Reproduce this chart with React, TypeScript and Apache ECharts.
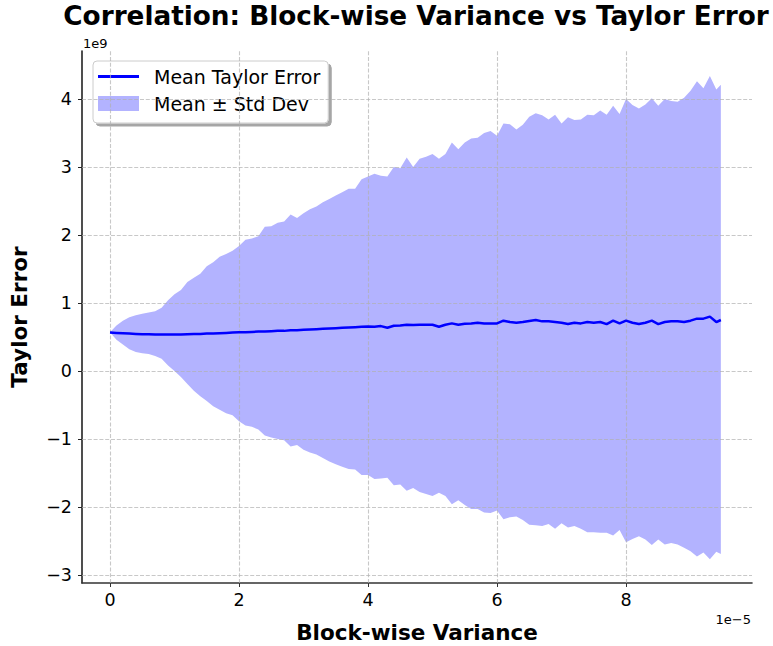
import React, { useEffect, useRef } from "react";
import * as echarts from "echarts";

// Block-wise variance (units of 1e-5)
const variance = [
  0.0, 0.1, 0.2, 0.3, 0.4, 0.5, 0.6, 0.7, 0.8, 0.9,
  1.0, 1.1, 1.2, 1.3, 1.4, 1.5, 1.6, 1.7, 1.8, 1.9,
  2.0, 2.1, 2.2, 2.3, 2.4, 2.5, 2.6, 2.7, 2.8, 2.9,
  3.0, 3.1, 3.2, 3.3, 3.4, 3.5, 3.6, 3.7, 3.8, 3.9,
  4.0, 4.1, 4.2, 4.3, 4.4, 4.5, 4.6, 4.7, 4.8, 4.9,
  5.0, 5.1, 5.2, 5.3, 5.4, 5.5, 5.6, 5.7, 5.8, 5.9,
  6.0, 6.1, 6.2, 6.3, 6.4, 6.5, 6.6, 6.7, 6.8, 6.9,
  7.0, 7.1, 7.2, 7.3, 7.4, 7.5, 7.6, 7.7, 7.8, 7.9,
  8.0, 8.1, 8.2, 8.3, 8.4, 8.5, 8.6, 8.7, 8.8, 8.9,
  9.0, 9.1, 9.2, 9.3, 9.4, 9.47,
];

// Mean Taylor error (units of 1e9)
const meanError = [
  0.565, 0.56, 0.555, 0.55, 0.545, 0.54, 0.54, 0.535, 0.535, 0.535,
  0.535, 0.535, 0.54, 0.545, 0.545, 0.55, 0.55, 0.555, 0.56, 0.565,
  0.57, 0.57, 0.575, 0.58, 0.58, 0.585, 0.59, 0.59, 0.6, 0.6,
  0.605, 0.61, 0.615, 0.62, 0.625, 0.63, 0.635, 0.64, 0.645, 0.65,
  0.655, 0.65, 0.66, 0.635, 0.665, 0.67, 0.68, 0.675, 0.68, 0.68,
  0.68, 0.65, 0.68, 0.7, 0.68, 0.695, 0.7, 0.71, 0.7, 0.7,
  0.7, 0.74, 0.72, 0.71, 0.72, 0.735, 0.75, 0.73, 0.73, 0.72,
  0.71, 0.69, 0.71, 0.7, 0.72, 0.71, 0.72, 0.69, 0.74, 0.7,
  0.74, 0.71, 0.69, 0.71, 0.74, 0.69, 0.72, 0.73, 0.73, 0.72,
  0.74, 0.77, 0.77, 0.8, 0.72, 0.75,
];

// Mean + std (units of 1e9)
const bandUpper = [
  0.57, 0.67, 0.74, 0.79, 0.82, 0.84, 0.86, 0.88, 0.93, 1.04,
  1.13, 1.19, 1.31, 1.37, 1.43, 1.54, 1.6, 1.68, 1.72, 1.77,
  1.84, 1.93, 1.95, 1.98, 2.12, 2.13, 2.18, 2.2, 2.3, 2.25,
  2.32, 2.38, 2.42, 2.48, 2.53, 2.58, 2.63, 2.68, 2.68, 2.82,
  2.86, 2.9, 2.87, 2.86, 3.0, 2.98, 3.14, 3.0, 3.12, 3.15,
  3.19, 3.12, 3.19, 3.36, 3.26, 3.36, 3.42, 3.43, 3.5, 3.53,
  3.46, 3.64, 3.63, 3.55, 3.62, 3.74, 3.79, 3.76, 3.7, 3.77,
  3.64, 3.73, 3.69, 3.7, 3.77, 3.76, 3.83, 3.77, 3.9, 3.78,
  4.0, 3.91, 3.86, 3.92, 4.01, 3.9, 4.0, 3.97, 3.96, 4.02,
  4.12, 4.26, 4.16, 4.34, 4.14, 4.21,
];

// Mean - std (units of 1e9)
const bandLower = [
  0.57, 0.46, 0.39, 0.32, 0.28, 0.26, 0.25, 0.22, 0.18, 0.08,
  0.0, -0.09, -0.19, -0.29, -0.37, -0.44, -0.52, -0.57, -0.62, -0.65,
  -0.74, -0.8, -0.82, -0.86, -0.95, -0.98, -1.0, -1.02, -1.11, -1.09,
  -1.16, -1.2, -1.23, -1.28, -1.33, -1.37, -1.41, -1.44, -1.45, -1.53,
  -1.53, -1.59, -1.58, -1.57, -1.68, -1.67, -1.76, -1.72, -1.78, -1.81,
  -1.84, -1.79, -1.84, -1.96, -1.9, -1.97, -2.03, -2.03, -2.08, -2.09,
  -2.05, -2.18, -2.15, -2.14, -2.19, -2.26, -2.27, -2.28, -2.25, -2.32,
  -2.24, -2.3, -2.28, -2.32, -2.37, -2.37, -2.38, -2.38, -2.42, -2.34,
  -2.52, -2.47, -2.43, -2.48, -2.56, -2.48, -2.55, -2.53, -2.55, -2.6,
  -2.65, -2.73, -2.67, -2.77, -2.66, -2.69,
];

const xTicks = [0, 2, 4, 6, 8];
const yTicks = [-3, -2, -1, 0, 1, 2, 3, 4];

const FONT = "DejaVu Sans";

export default function App() {
  const ref = useRef<HTMLDivElement>(null);

  useEffect(() => {
    if (!ref.current) return;
    const chart = echarts.init(ref.current, null, { renderer: "svg" });

    const gridLine = {
      color: "#b0b0b0",
      opacity: 0.7,
      width: 1.1,
      type: [4, 1.8],
    };

    const fmtNum = (v: number) => (v < 0 ? "\u2212" + Math.abs(v) : String(v));

    const bandData = variance.map((v, i) => [v, bandUpper[i], bandLower[i]]);

    chart.setOption({
      animation: false,
      backgroundColor: "#ffffff",
      title: {
        text: "Correlation: Block-wise Variance vs Taylor Error",
        left: 416,
        top: 3,
        padding: 0,
        textAlign: "center",
        textStyle: { fontFamily: FONT, fontSize: 26.3, fontWeight: "bold", color: "#000" },
      },
      grid: {
        left: 82,
        right: 21,
        top: 51,
        bottom: 63,
        containLabel: false,
        outerBoundsMode: "none",
      },
      legend: {
        orient: "vertical",
        left: 93,
        top: 61,
        padding: [6, 8, 10, 5],
        itemWidth: 41,
        itemHeight: 15,
        itemGap: 8,
        selectedMode: false,
        backgroundColor: "#ffffff",
        borderColor: "#cccccc",
        borderWidth: 1,
        borderRadius: 4,
        shadowColor: "rgba(0,0,0,0.35)",
        shadowOffsetX: 3,
        shadowOffsetY: 3,
        shadowBlur: 0,
        textStyle: { fontFamily: FONT, fontSize: 19, color: "#000", padding: [0, 0, 0, 10] },
        data: [
          {
            name: "Mean Taylor Error",
            icon: "path://M0,0 L41,0 L41,2.8 L0,2.8 Z",
            itemStyle: { color: "#0000ff" },
          },
          { name: "Mean \u00b1 Std Dev", icon: "rect", itemStyle: { color: "#b3b3ff" } },
        ],
      },
      xAxis: {
        type: "value",
        min: -0.434,
        max: 9.953,
        name: "Block-wise Variance",
        nameLocation: "middle",
        nameGap: 38,
        nameTextStyle: { fontFamily: FONT, fontSize: 21.5, fontWeight: "bold", color: "#000" },
        axisLine: { show: true, onZero: false, lineStyle: { color: "#333", width: 1.6 } },
        axisTick: { show: true, length: 4, customValues: xTicks, lineStyle: { color: "#333", width: 1 } },
        axisLabel: {
          customValues: xTicks,
          margin: 8,
          fontFamily: FONT,
          fontSize: 17.5,
          color: "#000",
          formatter: (v: number) => fmtNum(v),
        },
        splitLine: { show: false },
      },
      yAxis: {
        type: "value",
        min: -3.118,
        max: 4.706,
        name: "Taylor Error",
        nameLocation: "middle",
        nameGap: 52,
        nameRotate: 90,
        nameTextStyle: { fontFamily: FONT, fontSize: 21.5, fontWeight: "bold", color: "#000" },
        axisLine: { show: true, onZero: false, lineStyle: { color: "#222", width: 1.6 } },
        axisTick: { show: true, length: 4, customValues: yTicks, lineStyle: { color: "#222", width: 1 } },
        axisLabel: {
          customValues: yTicks,
          margin: 10,
          fontFamily: FONT,
          fontSize: 17.5,
          color: "#000",
          formatter: (v: number) => fmtNum(v),
        },
        splitLine: { show: false },
      },
      graphic: [
        {
          type: "text",
          left: 83,
          top: 37,
          style: { text: "1e9", fontFamily: FONT, fontSize: 13, fill: "#000" },
        },
        {
          type: "text",
          right: 22,
          top: 613,
          style: { text: "1e\u22125", fontFamily: FONT, fontSize: 13, fill: "#000" },
        },
      ],
      series: [
        {
          name: "Mean \u00b1 Std Dev",
          type: "custom",
          silent: true,
          z: 2,
          itemStyle: { color: "#b3b3ff" },
          encode: { x: 0, y: [1, 2] },
          data: bandData,
          renderItem: (params: any, api: any) => {
            if (params.dataIndex !== 0) return null;
            const pts: number[][] = [];
            for (let i = 0; i < bandData.length; i++) {
              pts.push(api.coord([bandData[i][0], bandData[i][1]]));
            }
            for (let i = bandData.length - 1; i >= 0; i--) {
              pts.push(api.coord([bandData[i][0], bandData[i][2]]));
            }
            return {
              type: "polygon",
              shape: { points: pts },
              style: { fill: "#b3b3ff", stroke: "none" },
            };
          },
        },
        {
          name: "Mean Taylor Error",
          type: "line",
          symbol: "none",
          silent: true,
          z: 10,
          color: "#0000ff",
          lineStyle: { color: "#0000ff", width: 2.5 },
          data: variance.map((v, i) => [v, meanError[i]]),
          markLine: {
            silent: true,
            symbol: ["none", "none"],
            label: { show: false },
            emphasis: { disabled: true },
            lineStyle: gridLine,
            data: [
              ...yTicks.map((t) => ({ yAxis: t })),
              ...xTicks.map((t) => ({ xAxis: t })),
            ],
          },
        },
      ],
    });

    return () => chart.dispose();
  }, []);

  return (
    <div
      ref={ref}
      style={{ position: "fixed", left: 0, top: 0, width: 773, height: 646, background: "#fff" }}
    />
  );
}
